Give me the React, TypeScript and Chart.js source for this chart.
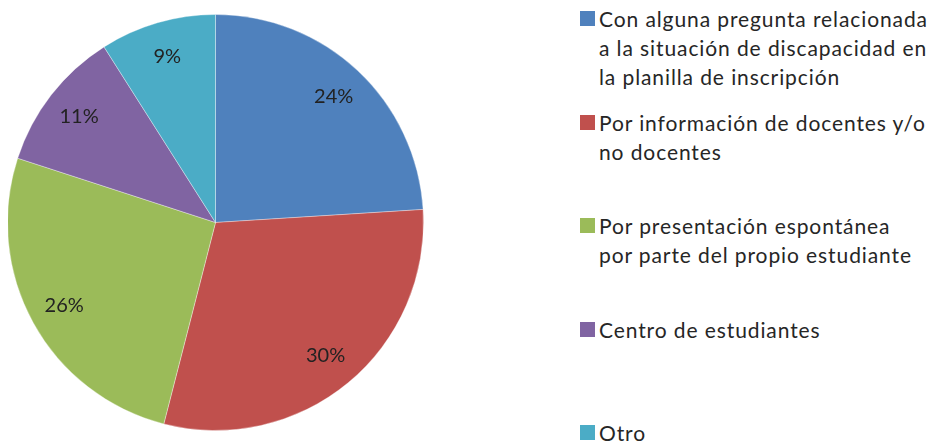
import React, { useEffect, useRef } from "react";
import { Chart, PieController, ArcElement } from "chart.js";

Chart.register(PieController, ArcElement);

const categoryLines: string[][] = [
  ["Con alguna pregunta relacionada", "a la situación de discapacidad en", "la planilla de inscripción"],
  ["Por información de docentes y/o", "no docentes"],
  ["Por presentación espontánea", "por parte del propio estudiante"],
  ["Centro de estudiantes"],
  ["Otro"],
];
const categories = categoryLines.map((l) => l.join(" "));
const values = [24, 30, 26, 11, 9];
const colors = ["#4F81BD", "#C0504D", "#9BBB59", "#8064A2", "#4BACC6"];

const labelPlugin = {
  id: "pctLabels",
  afterDatasetsDraw(chart: any) {
    const ctx = chart.ctx;
    const meta = chart.getDatasetMeta(0);
    ctx.save();
    ctx.font = "20px Lato";
    ctx.fillStyle = "#222222";
    ctx.textAlign = "center";
    ctx.textBaseline = "middle";
    meta.data.forEach((arc: any, i: number) => {
      const p = arc.getProps(["x", "y", "startAngle", "endAngle", "outerRadius"], true);
      const mid = (p.startAngle + p.endAngle) / 2;
      const r = p.outerRadius * 0.83;
      ctx.fillText(values[i] + "%", p.x + Math.cos(mid) * r, p.y + Math.sin(mid) * r);
    });
    ctx.restore();
  },
};

export default function App() {
  const ref = useRef<HTMLCanvasElement>(null);
  useEffect(() => {
    if (!ref.current) return;
    const chart = new Chart(ref.current, {
      type: "pie",
      data: {
        labels: categories,
        datasets: [
          {
            data: values,
            backgroundColor: colors,
            borderColor: "rgba(255,255,255,0.35)",
            borderWidth: 1,
          },
        ],
      },
      options: {
        responsive: false,
        animation: false,
        layout: { padding: 0 },
        plugins: { legend: { display: false }, tooltip: { enabled: false } },
      },
      plugins: [labelPlugin],
    });
    return () => chart.destroy();
  }, []);

  return (
    <div style={{ position: "relative", width: 920, height: 438, overflow: "visible" }}>
      <canvas
        ref={ref}
        width={417}
        height={417}
        style={{ position: "absolute", left: -1, top: 5.5, width: 417, height: 417 }}
      />
      <div
        style={{
          position: "absolute",
          left: 572,
          top: -4,
          fontFamily: "Lato",
          fontSize: 21,
          lineHeight: "29px",
          letterSpacing: "0.9px",
          color: "#262626",
        }}
      >
        {categoryLines.map((lines, i) => (
          <div
            key={i}
            style={{ position: "absolute", top: i * 103.5, left: 0, display: "flex", whiteSpace: "nowrap" }}
          >
            <span
              style={{ width: 15, height: 15, background: colors[i], marginTop: 7, marginRight: 4, flex: "none" }}
            />
            <div>
              {lines.map((l, j) => (
                <div key={j}>{l}</div>
              ))}
            </div>
          </div>
        ))}
      </div>
    </div>
  );
}
